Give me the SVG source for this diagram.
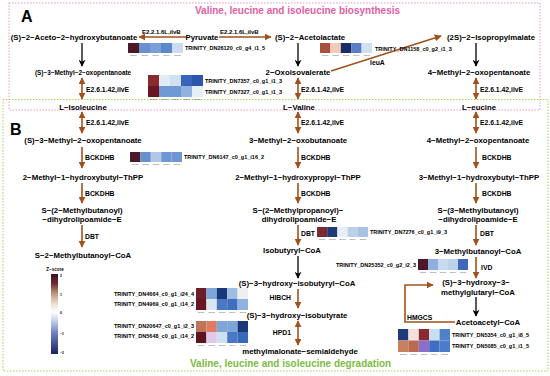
<svg xmlns="http://www.w3.org/2000/svg" width="550" height="376" viewBox="0 0 550 376">
<defs>
<style>
text{font-family:"Liberation Sans",Arial,sans-serif;font-weight:bold;fill:#000}
.n{font-size:7.8px;text-anchor:middle}
.e{font-size:6.8px}
.e6{font-size:6px}
.g{font-size:5.5px}
.gr{font-size:2px;fill:#444;font-weight:normal;text-anchor:middle}
.br{stroke:#a0521d;stroke-width:1.6;fill:none}
.bk{stroke:#000;stroke-width:1.3;fill:none}
.ah{marker-end:url(#hb)}
.dh{marker-start:url(#hb);marker-end:url(#hb)}
.kh{marker-end:url(#hk)}
</style>
<marker id="hb" viewBox="0 0 10 10" refX="9" refY="5" markerWidth="7" markerHeight="7" markerUnits="userSpaceOnUse" orient="auto-start-reverse"><path d="M0,0 L10,5 L0,10 z" fill="#a0521d"/></marker>
<marker id="hk" viewBox="0 0 10 10" refX="9" refY="5" markerWidth="8" markerHeight="7" markerUnits="userSpaceOnUse" orient="auto"><path d="M0,0 L10,5 L0,10 L3,5 z" fill="#000"/></marker>
<linearGradient id="zs" x1="0" y1="0" x2="0" y2="1">
<stop offset="0" stop-color="#3a0f22"/>
<stop offset="0.12" stop-color="#6e2c30"/>
<stop offset="0.24" stop-color="#b9957a"/>
<stop offset="0.38" stop-color="#efe3d6"/>
<stop offset="0.475" stop-color="#ffffff"/>
<stop offset="0.6" stop-color="#bcc8e6"/>
<stop offset="0.74" stop-color="#6d80c0"/>
<stop offset="1" stop-color="#1c2260"/>
</linearGradient>
</defs>
<rect width="550" height="376" fill="#fff"/>

<g id="panelA">
<rect x="9" y="3" width="531" height="107" fill="none" stroke="#e88cbf" stroke-width="0.9" stroke-dasharray="1.5,1.5"/>
<text x="195" y="14" style="font-size:10px;fill:#e2619f">Valine, leucine and isoleucine biosynthesis</text>
<text x="21" y="22" style="font-size:16px">A</text>
</g>
<g id="panelB">
<rect x="3" y="99.5" width="545" height="271.5" fill="none" stroke="#9acd52" stroke-width="0.9" stroke-dasharray="1.5,1.5"/>
<text x="190" y="367" style="font-size:10px;fill:#7dbb42">Valine, leucine and isoleucine degradation</text>
<text x="10" y="135" style="font-size:16px">B</text>
</g>

<g id="connectors">
<line class="br ah" x1="186" y1="37" x2="139" y2="37"/>
<line class="br ah" x1="219" y1="37" x2="271" y2="37"/>
<line class="bk kh" x1="82" y1="43" x2="82" y2="66"/>
<line class="bk kh" x1="298" y1="43" x2="298" y2="66"/>
<line class="bk kh" x1="476" y1="43" x2="476" y2="66"/>
<line class="br ah" x1="331" y1="71" x2="441" y2="36"/>
<line class="br dh" x1="82" y1="78" x2="82" y2="99"/>
<line class="br dh" x1="298" y1="78" x2="298" y2="99"/>
<line class="br dh" x1="476" y1="78" x2="476" y2="99"/>
<line class="br dh" x1="82" y1="112" x2="82" y2="133"/>
<line class="br dh" x1="298" y1="112" x2="298" y2="133"/>
<line class="br dh" x1="476" y1="112" x2="476" y2="133"/>
<line class="br ah" x1="82" y1="147" x2="82" y2="168"/>
<line class="br ah" x1="298" y1="147" x2="298" y2="168"/>
<line class="br ah" x1="476" y1="147" x2="476" y2="168"/>
<line class="br ah" x1="82" y1="183" x2="82" y2="203"/>
<line class="br ah" x1="298" y1="183" x2="298" y2="203"/>
<line class="br ah" x1="476" y1="183" x2="476" y2="203"/>
<line class="br ah" x1="82" y1="225" x2="82" y2="247"/>
<line class="br ah" x1="298" y1="225" x2="298" y2="245"/>
<line class="br ah" x1="476" y1="225" x2="476" y2="245"/>
<line class="bk kh" x1="298" y1="256" x2="298" y2="278"/>
<line class="br ah" x1="298" y1="289" x2="298" y2="308"/>
<line class="br dh" x1="298" y1="321" x2="298" y2="345"/>
<line class="br ah" x1="476" y1="257" x2="476" y2="278"/>
<line class="bk kh" x1="476" y1="297" x2="476" y2="316"/>
<polyline class="br ah" points="455,322 405,322 405,285 433,285"/>
</g>

<g id="enzymes">
<text class="e6" x="142" y="34">E2.2.1.6L,ilvB</text>
<text class="e6" x="220" y="34">E2.2.1.6L,ilvB</text>
<text class="e" x="370" y="65">leuA</text>
<text class="e" x="86" y="91.5">E2.6.1.42,ilvE</text>
<text class="e" x="301" y="91.5">E2.6.1.42,ilvE</text>
<text class="e" x="480" y="91.5">E2.6.1.42,ilvE</text>
<text class="e" x="86" y="124.5">E2.6.1.42,ilvE</text>
<text class="e" x="301" y="124.5">E2.6.1.42,ilvE</text>
<text class="e" x="480" y="124.5">E2.6.1.42,ilvE</text>
<text class="e" x="85" y="159.5">BCKDHB</text>
<text class="e" x="301" y="159.5">BCKDHB</text>
<text class="e" x="482" y="159.5">BCKDHB</text>
<text class="e" x="85" y="195.5">BCKDHB</text>
<text class="e" x="301" y="195.5">BCKDHB</text>
<text class="e" x="482" y="195.5">BCKDHB</text>
<text class="e" x="85" y="238.5">DBT</text>
<text class="e" x="301" y="235.5">DBT</text>
<text class="e" x="480" y="235.5">DBT</text>
<text class="e" x="481" y="269.5">IVD</text>
<text class="e" x="291" y="299.5" style="text-anchor:end">HIBCH</text>
<text class="e" x="291" y="334.5" style="text-anchor:end">HPD1</text>
<text class="e" x="407" y="319.5">HMGCS</text>
</g>

<g id="n-aceto"><text class="n" x="74" y="39.5">(S)−2−Aceto−2−hydroxybutanoate</text></g>
<g id="n-pyruvate"><text class="n" x="202" y="39.5">Pyruvate</text></g>
<g id="n-acetolactate"><text class="n" x="310" y="39.5">(S)−2−Acetolactate</text></g>
<g id="n-isopropylmalate"><text class="n" x="491" y="39.5">(2S)−2−Isopropylmalate</text></g>
<g id="n-methyloxopentA"><text class="n" x="83" y="74.5" style="font-size:6.4px">(S)−3−Methyl−2−oxopentanoate</text></g>
<g id="n-oxoisovalerate"><text class="n" x="298" y="75">2−Oxoisovalerate</text></g>
<g id="n-4methylA"><text class="n" x="479" y="75">4−Methyl−2−oxopentanoate</text></g>
<g id="n-isoleucine"><text class="n" x="83" y="110">L−Isoleucine</text></g>
<g id="n-valine"><text class="n" x="299" y="110">L−Valine</text></g>
<g id="n-leucine"><text class="n" x="479" y="110">L−eucine</text></g>
<g id="n-methyloxopentB"><text class="n" x="83" y="143">(S)−3−Methyl−2−oxopentanoate</text></g>
<g id="n-oxobutanoate"><text class="n" x="298" y="143">3−Methyl−2−oxobutanoate</text></g>
<g id="n-4methylB"><text class="n" x="478" y="143">4−Methyl−2−oxopentanoate</text></g>
<g id="n-hbThPP"><text class="n" x="83" y="180">2−Methyl−1−hydroxybutyl−ThPP</text></g>
<g id="n-hpThPP"><text class="n" x="298" y="180">2−Methyl−1−hydroxypropyl−ThPP</text></g>
<g id="n-3hbThPP"><text class="n" x="479" y="180">3−Methyl−1−hydroxybutyl−ThPP</text></g>
<g id="n-mbdl"><text class="n" x="82" y="213">S−(2−Methylbutanoyl)</text><text class="n" x="82" y="222">−dihydrolipoamide−E</text></g>
<g id="n-mpdl"><text class="n" x="298" y="213">S−(2−Methylpropanoyl)−</text><text class="n" x="299" y="222">dihydrolipoamide−E</text></g>
<g id="n-3mbdl"><text class="n" x="478" y="213">S−(3−Methylbutanoyl)</text><text class="n" x="478" y="222">−dihydrolipoamide−E</text></g>
<g id="n-mbcoa"><text class="n" x="83" y="258">S−2−Methylbutanoyl−CoA</text></g>
<g id="n-isobutyryl"><text class="n" x="292" y="253">Isobutyryl−CoA</text></g>
<g id="n-3mbcoa"><text class="n" x="478" y="254">3−Methylbutanoyl−CoA</text></g>
<g id="n-hibcoa"><text class="n" x="297" y="286">(S)−3−hydroxy−isobutyryl−CoA</text></g>
<g id="n-hmgcoa"><text class="n" x="476" y="285">(S)−3−hydroxy−3−</text><text class="n" x="478" y="294.5">methylglutaryl−CoA</text></g>
<g id="n-hib"><text class="n" x="297" y="318">(S)−3−hydroxy−isobutyrate</text></g>
<g id="n-acetoacetyl"><text class="n" x="488" y="325">Acetoacetyl−CoA</text></g>
<g id="n-mmsa"><text class="n" x="300" y="354">methylmalonate−semialdehyde</text></g>

<g id="hm-DN26120">
<rect x="128" y="43" width="11" height="10" fill="#4a1a27"/><rect x="139" y="43" width="11" height="10" fill="#6b90d0"/><rect x="150" y="43" width="11" height="10" fill="#7ba0d8"/><rect x="161" y="43" width="11" height="10" fill="#5e88cc"/><rect x="172" y="43" width="11" height="10" fill="#cbdcee"/>
<text class="gr" x="133.5" y="56">group1</text><text class="gr" x="144.5" y="56">group2</text><text class="gr" x="155.5" y="56">group3</text><text class="gr" x="166.5" y="56">group4</text><text class="gr" x="177.5" y="56">group5</text>
<text class="g" x="185" y="50">TRINITY_DN26120_c0_g4_i1_5</text>
</g>
<g id="hm-DN1158">
<rect x="320" y="43" width="10.4" height="10" fill="#a8503e"/><rect x="330.4" y="43" width="10.4" height="10" fill="#f0cdb8"/><rect x="340.8" y="43" width="10.4" height="10" fill="#1c2a66"/><rect x="351.2" y="43" width="10.4" height="10" fill="#5a7ec6"/><rect x="361.6" y="43" width="10.4" height="10" fill="#d0e2f2"/>
<text class="gr" x="325.2" y="56">group1</text><text class="gr" x="335.6" y="56">group2</text><text class="gr" x="346" y="56">group3</text><text class="gr" x="356.4" y="56">group4</text><text class="gr" x="366.8" y="56">group5</text>
<text class="g" x="375" y="51">TRINITY_DN1158_c0_g2_i1_3</text>
</g>
<g id="hm-DN7357">
<rect x="148" y="75" width="11" height="11" fill="#8b2a2e"/><rect x="159" y="75" width="11" height="11" fill="#e3ecf5"/><rect x="170" y="75" width="11" height="11" fill="#cfe0ef"/><rect x="181" y="75" width="11" height="11" fill="#3864b9"/><rect x="192" y="75" width="11" height="11" fill="#2c56ad"/>
<rect x="148" y="86" width="11" height="11" fill="#6b1522"/><rect x="159" y="86" width="11" height="11" fill="#6f9ad4"/><rect x="170" y="86" width="11" height="11" fill="#6f9ad4"/><rect x="181" y="86" width="11" height="11" fill="#8fb2de"/><rect x="192" y="86" width="11" height="11" fill="#e6eef6"/>
<text class="gr" x="153.5" y="100">group1</text><text class="gr" x="164.5" y="100">group2</text><text class="gr" x="175.5" y="100">group3</text><text class="gr" x="186.5" y="100">group4</text><text class="gr" x="197.5" y="100">group5</text>
<text class="g" x="205" y="83">TRINITY_DN7357_c0_g1_i1_3</text>
<text class="g" x="205" y="94">TRINITY_DN7327_c0_g1_i1_3</text>
</g>
<g id="hm-DN6147">
<rect x="130" y="152" width="10.4" height="10" fill="#4a1a28"/><rect x="140.4" y="152" width="10.4" height="10" fill="#6690ce"/><rect x="150.8" y="152" width="10.4" height="10" fill="#b0c8e8"/><rect x="161.2" y="152" width="10.4" height="10" fill="#6d96d2"/><rect x="171.6" y="152" width="10.4" height="10" fill="#6d96d2"/>
<text class="gr" x="135.2" y="165">group1</text><text class="gr" x="145.6" y="165">group2</text><text class="gr" x="156" y="165">group3</text><text class="gr" x="166.4" y="165">group4</text><text class="gr" x="176.8" y="165">group5</text>
<text class="g" x="184" y="159">TRINITY_DN6147_c0_g1_i16_2</text>
</g>
<g id="hm-DN7276">
<rect x="317" y="227" width="10.2" height="10" fill="#7a2a30"/><rect x="327.2" y="227" width="10.2" height="10" fill="#1f3a78"/><rect x="337.4" y="227" width="10.2" height="10" fill="#e8eef6"/><rect x="347.6" y="227" width="10.2" height="10" fill="#bcd0ea"/><rect x="357.8" y="227" width="10.2" height="10" fill="#a8c2e4"/>
<text class="gr" x="322.1" y="240">group1</text><text class="gr" x="332.3" y="240">group2</text><text class="gr" x="342.5" y="240">group3</text><text class="gr" x="352.7" y="240">group4</text><text class="gr" x="362.9" y="240">group5</text>
<text class="g" x="370" y="234">TRINITY_DN7276_c0_g1_i9_3</text>
</g>
<g id="hm-DN25352">
<rect x="418" y="259" width="10" height="11" fill="#4c1726"/><rect x="428" y="259" width="10" height="11" fill="#8fb0de"/><rect x="438" y="259" width="10" height="11" fill="#c8daee"/><rect x="448" y="259" width="10" height="11" fill="#bcd2ec"/><rect x="458" y="259" width="10" height="11" fill="#3d68bb"/>
<text class="gr" x="423" y="273">group1</text><text class="gr" x="433" y="273">group2</text><text class="gr" x="443" y="273">group3</text><text class="gr" x="453" y="273">group4</text><text class="gr" x="463" y="273">group5</text>
<text class="g" x="416" y="266.5" style="text-anchor:end">TRINITY_DN25352_c0_g2_i2_3</text>
</g>
<g id="hm-DN4664">
<rect x="196" y="288" width="10.4" height="11" fill="#6b1d28"/><rect x="206.4" y="288" width="10.4" height="11" fill="#7ea6d8"/><rect x="216.8" y="288" width="10.4" height="11" fill="#1a3878"/><rect x="227.2" y="288" width="10.4" height="11" fill="#9ebce2"/><rect x="237.6" y="288" width="10.4" height="11" fill="#eef0ee"/>
<rect x="196" y="299" width="10.4" height="11" fill="#6b1522"/><rect x="206.4" y="299" width="10.4" height="11" fill="#dbe6f3"/><rect x="216.8" y="299" width="10.4" height="11" fill="#4a78c4"/><rect x="227.2" y="299" width="10.4" height="11" fill="#3f6fc0"/><rect x="237.6" y="299" width="10.4" height="11" fill="#8fb2de"/>
<text class="gr" x="201.2" y="313">group1</text><text class="gr" x="211.6" y="313">group2</text><text class="gr" x="222" y="313">group3</text><text class="gr" x="232.4" y="313">group4</text><text class="gr" x="242.8" y="313">group5</text>
<text class="g" x="194" y="296" style="text-anchor:end">TRINITY_DN4664_c0_g1_i24_4</text>
<text class="g" x="194" y="306" style="text-anchor:end">TRINITY_DN4969_c0_g1_i14_2</text>
</g>
<g id="hm-DN20647">
<rect x="196" y="321" width="10.4" height="11" fill="#c0745a"/><rect x="206.4" y="321" width="10.4" height="11" fill="#e07b60"/><rect x="216.8" y="321" width="10.4" height="11" fill="#7fa6d8"/><rect x="227.2" y="321" width="10.4" height="11" fill="#7fa6d8"/><rect x="237.6" y="321" width="10.4" height="11" fill="#1a3878"/>
<rect x="196" y="332" width="10.4" height="11" fill="#5b1520"/><rect x="206.4" y="332" width="10.4" height="11" fill="#e0c8e8"/><rect x="216.8" y="332" width="10.4" height="11" fill="#cfe0f0"/><rect x="227.2" y="332" width="10.4" height="11" fill="#4a78c4"/><rect x="237.6" y="332" width="10.4" height="11" fill="#3a68ba"/>
<text class="gr" x="201.2" y="346">group1</text><text class="gr" x="211.6" y="346">group2</text><text class="gr" x="222" y="346">group3</text><text class="gr" x="232.4" y="346">group4</text><text class="gr" x="242.8" y="346">group5</text>
<text class="g" x="194" y="328" style="text-anchor:end">TRINITY_DN20647_c0_g1_i2_3</text>
<text class="g" x="194" y="338" style="text-anchor:end">TRINITY_DN5648_c0_g1_i14_2</text>
</g>
<g id="hm-DN5354">
<rect x="398" y="329" width="10.4" height="11.5" fill="#1e3a7a"/><rect x="408.4" y="329" width="10.4" height="11.5" fill="#f5e0dc"/><rect x="418.8" y="329" width="10.4" height="11.5" fill="#8b2a2e"/><rect x="429.2" y="329" width="10.4" height="11.5" fill="#c6e0f0"/><rect x="439.6" y="329" width="10.4" height="11.5" fill="#4f80c8"/>
<rect x="398" y="340.5" width="10.4" height="11.5" fill="#c88060"/><rect x="408.4" y="340.5" width="10.4" height="11.5" fill="#b86b50"/><rect x="418.8" y="340.5" width="10.4" height="11.5" fill="#8a70c8"/><rect x="429.2" y="340.5" width="10.4" height="11.5" fill="#3f6fc0"/><rect x="439.6" y="340.5" width="10.4" height="11.5" fill="#4a7cc8"/>
<text class="gr" x="403.2" y="355">group1</text><text class="gr" x="413.6" y="355">group2</text><text class="gr" x="424" y="355">group3</text><text class="gr" x="434.4" y="355">group4</text><text class="gr" x="444.8" y="355">group5</text>
<text class="g" x="452" y="337">TRINITY_DN5354_c0_g1_i8_5</text>
<text class="g" x="452" y="348">TRINITY_DN5085_c0_g1_i1_5</text>
</g>

<g id="zscore-legend">
<text x="55" y="271" style="font-size:4.5px;text-anchor:middle">Z−score</text>
<rect x="51" y="274" width="7" height="80" fill="url(#zs)"/>
<g style="font-size:3.5px;font-weight:normal">
<text x="60" y="276.5">2</text>
<text x="60" y="295.5">1</text>
<text x="60" y="314">0</text>
<text x="60" y="334.5">−1</text>
<text x="60" y="354">−2</text>
</g>
</g>
</svg>
